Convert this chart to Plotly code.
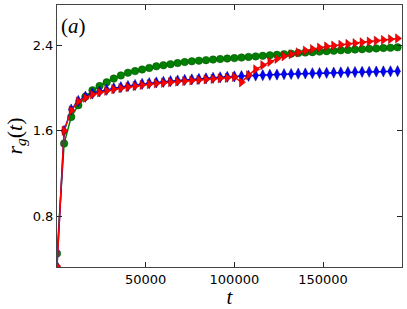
import plotly.graph_objects as go

t = [4000 * n for n in range(49)]

green_vals = [0.45, 1.48, 1.73, 1.84, 1.92, 1.98, 2.02, 2.055, 2.09, 2.12,
              2.145, 2.16, 2.175, 2.19, 2.205, 2.215, 2.225, 2.235, 2.245, 2.252,
              2.258, 2.263, 2.268, 2.273, 2.278, 2.282, 2.287, 2.293, 2.298, 2.303,
              2.308, 2.313, 2.319, 2.324, 2.329, 2.334, 2.338, 2.343, 2.347, 2.351,
              2.355, 2.359, 2.362, 2.366, 2.369, 2.373, 2.376, 2.379, 2.383]

blue_vals = [0.33, 1.60, 1.80, 1.88, 1.92, 1.95, 1.97, 1.985, 2.0, 2.01,
             2.02, 2.03, 2.04, 2.047, 2.054, 2.06, 2.066, 2.072, 2.077, 2.082,
             2.087, 2.092, 2.097, 2.102, 2.106, 2.11, 2.113, 2.116, 2.119, 2.122,
             2.125, 2.128, 2.131, 2.133, 2.136, 2.138, 2.14, 2.142, 2.144, 2.146,
             2.148, 2.15, 2.151, 2.153, 2.154, 2.156, 2.157, 2.158, 2.159]

red_vals = [0.33, 1.60, 1.79, 1.875, 1.91, 1.94, 1.96, 1.975, 1.99, 2.0,
            2.01, 2.02, 2.03, 2.037, 2.044, 2.05, 2.056, 2.062, 2.067, 2.072,
            2.077, 2.082, 2.087, 2.092, 2.097, 2.105, 2.055, 2.122, 2.177, 2.216,
            2.247, 2.275, 2.299, 2.318, 2.336, 2.352, 2.367, 2.38, 2.391, 2.4,
            2.407, 2.415, 2.422, 2.43, 2.437, 2.445, 2.452, 2.459, 2.467]

x_ticks = [50000, 100000, 150000]
y_ticks = [0.8, 1.6, 2.4]

fig = go.Figure()
fig.add_trace(go.Scatter(x=t, y=green_vals, mode="lines+markers",
                         line=dict(color="#008000", width=1.5),
                         marker=dict(symbol="circle", size=7.5, color="#008000",
                                     line=dict(color="#005000", width=0.5))))
fig.add_trace(go.Scatter(x=t, y=blue_vals, mode="lines+markers",
                         line=dict(color="#0000ff", width=1.5),
                         marker=dict(symbol="diamond-tall", size=8, color="#0000ff",
                                     line=dict(color="#000080", width=0.5))))
fig.add_trace(go.Scatter(x=t, y=red_vals, mode="lines+markers",
                         line=dict(color="#ff0000", width=1.5),
                         marker=dict(symbol="triangle-right", size=8, color="#ff0000",
                                     line=dict(color="#a00000", width=0.5))))

axis_common = dict(showgrid=False, zeroline=False, showline=True, linecolor="#444",
                   linewidth=1, mirror="ticks", ticks="inside", ticklen=5,
                   tickwidth=1, tickcolor="#222",
                   tickfont=dict(family="DejaVu Sans", size=13, color="black"))

fig.update_xaxes(range=[0, 194500], tickvals=x_ticks,
                 ticktext=[str(v) for v in x_ticks],
                 title=dict(text="<i>t</i>", font=dict(family="Liberation Serif", size=21, color="black"),
                            standoff=4),
                 **axis_common)
fig.update_yaxes(range=[0.323, 2.78], tickvals=y_ticks,
                 ticktext=["0.8", "1.6", "2.4"],
                 title=dict(text="<i>r</i><sub><i>g</i></sub>(<i>t</i>)",
                            font=dict(family="Liberation Serif", size=22, color="black"),
                            standoff=4),
                 **axis_common)

fig.add_annotation(x=0, y=1, xref="paper", yref="paper", xanchor="left", yanchor="top",
                   xshift=2, yshift=-7, text="(<i>a</i>)", showarrow=False,
                   font=dict(family="Liberation Serif", size=21, color="black"))

fig.update_layout(width=407, height=309, margin=dict(l=57, r=4, t=4, b=37),
                  plot_bgcolor="white", paper_bgcolor="white", showlegend=False)

fig.write_html("out.html", config={"displayModeBar": False},
               post_script="document.body.style.margin='0';document.body.style.overflow='hidden';")
